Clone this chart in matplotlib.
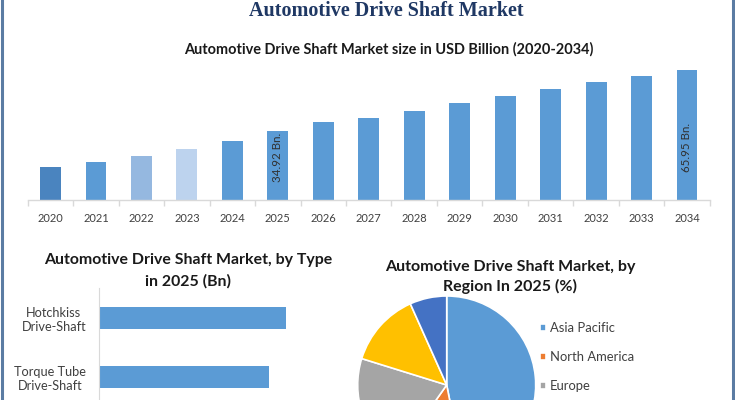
import matplotlib
matplotlib.use('Agg')
import matplotlib.pyplot as plt
from matplotlib.lines import Line2D
from matplotlib.ticker import FixedLocator

# ---------------- data ----------------
years = [str(y) for y in range(2020, 2035)]
market_size = [16.8, 19.2, 22.4, 25.9, 30.1, 34.92, 39.8, 41.5, 45.4, 49.2,
               52.7, 56.3, 60.0, 62.9, 65.95]
bar_colors = ['#4A84BF', '#5B9BD5', '#95B8E0', '#BDD3EE'] + ['#5B9BD5'] * 11
label_years = ['2025', '2034']
label_texts = ['34.92 Bn.', '65.95 Bn.']
label_heights = [21.9, 26.9]

types = ['Hotchkiss\nDrive-Shaft', 'Torque Tube\nDrive-Shaft']
type_values = [18.7, 17.0]

regions = ['Asia Pacific', 'North America', 'Europe', 'Middle East and Africa', 'South America']
region_share = [46.9, 12.9, 20.0, 13.5, 6.7]
region_colors = ['#5B9BD5', '#ED7D31', '#A5A5A5', '#FFC000', '#4472C4']
legend_visible = 3  # entries that fit inside the picture

# ---------------- figure ----------------
W, H = 735, 400
fig = plt.figure(figsize=(W / 100, H / 100), dpi=100)
fig.patch.set_facecolor('white')
renderer = fig.canvas.get_renderer()
FONT = 'Lato'
GRID = '#D9D9D9'
TXT = '#404040'


def box(l, t, r, b):
    return [l / W, 1 - b / H, (r - l) / W, (b - t) / H]


def size_for(s, target, size=10, **kw):
    t = fig.text(0, 0, s, fontsize=size, **kw)
    w = t.get_window_extent(renderer).width
    t.remove()
    return size * target / w


# border lines
for xpx in (2, 733):
    fig.add_artist(Line2D([xpx / W, xpx / W], [0, 1], transform=fig.transFigure,
                          color='#5B7CA3', lw=2.2))

# titles
tsize = size_for('Automotive Drive Shaft Market', 276, family='Liberation Serif', weight='bold')
fig.text(386 / W, 1 - 15.5 / H, 'Automotive Drive Shaft Market', family='Liberation Serif',
         weight='bold', color='#1F3864', fontsize=tsize, ha='center', va='baseline')
s = 'Automotive Drive Shaft Market size in USD Billion (2020-2034)'
ssize = size_for(s, 411, family=FONT, weight='bold')
fig.text(388.5 / W, 1 - 54 / H, s, family=FONT, weight='bold', color='#1A1A1A',
         fontsize=ssize, ha='center', va='baseline')

# ---------------- bar chart ----------------
ax = fig.add_axes(box(27.8, 62.3, 709.7, 200))
x = list(range(len(years)))
ax.bar(x, market_size, width=0.46, color=bar_colors, zorder=2)
ax.set_xlim(-0.5, len(years) - 0.5)
ax.set_ylim(0, 70)
for sp in ('top', 'right', 'left'):
    ax.spines[sp].set_visible(False)
ax.spines['bottom'].set_color(GRID)
ax.spines['bottom'].set_linewidth(1)
ax.set_yticks([])
ax.set_xticks(x)
ysize = size_for('2020', 25.7, family=FONT)
ax.set_xticklabels(years, family=FONT, fontsize=ysize, color=TXT)
ax.tick_params(axis='x', which='major', length=0, pad=9)
ax.xaxis.set_minor_locator(FixedLocator([i - 0.5 for i in range(len(years) + 1)]))
ax.tick_params(axis='x', which='minor', length=4, color=GRID, width=1)
lsize = size_for('34.92 Bn.', 49, family=FONT)
for yr, txt, hgt in zip(label_years, label_texts, label_heights):
    i = years.index(yr)
    ax.text(i, hgt, txt, rotation=90, ha='center', va='center', family=FONT,
            fontsize=lsize, color='#303030', zorder=3)

# ---------------- horizontal bar chart ----------------
bsize = size_for('Automotive Drive Shaft Market, by Type', 288, family=FONT, weight='bold')
fig.text(188 / W, 1 - 270.5 / H, 'Automotive Drive Shaft Market, by Type\nin 2025 (Bn)',
         family=FONT, weight='bold', fontsize=bsize, color='#1A1A1A', ha='center',
         va='center', linespacing=1.6)
axh = fig.add_axes(box(99.3, 288, 359.3, 466.3))
yy = list(range(len(types)))
axh.barh(yy, type_values, height=0.37, color='#5B9BD5', zorder=2)
axh.set_ylim(2.5, -0.496)
axh.set_xlim(0, 26)
for sp in ('top', 'right', 'bottom'):
    axh.spines[sp].set_visible(False)
axh.spines['left'].set_color(GRID)
axh.set_xticks([])
axh.set_yticks(yy)
hsize = size_for('Drive-Shaft', 64.7, family=FONT)
axh.set_yticklabels(types, family=FONT, fontsize=hsize, color=TXT, multialignment='center')
axh.tick_params(axis='y', length=0, pad=9.5)

# ---------------- pie chart ----------------
psize = size_for('Automotive Drive Shaft Market, by', 251, family=FONT, weight='bold')
fig.text(510 / W, 1 - 277 / H, 'Automotive Drive Shaft Market, by\nRegion In 2025 (%)',
         family=FONT, weight='bold', fontsize=psize, color='#1A1A1A', ha='center',
         va='center', linespacing=1.38)
axp = fig.add_axes(box(357.7, 296, 535.7, 474))
wedges, _ = axp.pie(region_share, colors=region_colors, startangle=90, counterclock=False,
                    wedgeprops=dict(edgecolor='white', linewidth=1.2))
axp.set_xlim(-1, 1)
axp.set_ylim(-1, 1)
axp.set_aspect('equal', adjustable='box')

gsize = size_for('Asia Pacific', 65, family=FONT)
gpx = gsize * 100 / 72
fig.legend(wedges[:legend_visible], regions[:legend_visible], loc='upper left',
           bbox_to_anchor=(540 / W, 1 - (330.3 - 0.62 * gpx) / H),
           frameon=False, borderpad=0, borderaxespad=0,
           handlelength=6 / gpx, handleheight=6 / gpx, handletextpad=4 / gpx,
           labelspacing=(32.5 - 1.2 * gpx) / gpx,
           prop=dict(family=FONT, size=gsize), labelcolor=TXT)

fig.savefig('out.png', dpi=100, facecolor='white')
